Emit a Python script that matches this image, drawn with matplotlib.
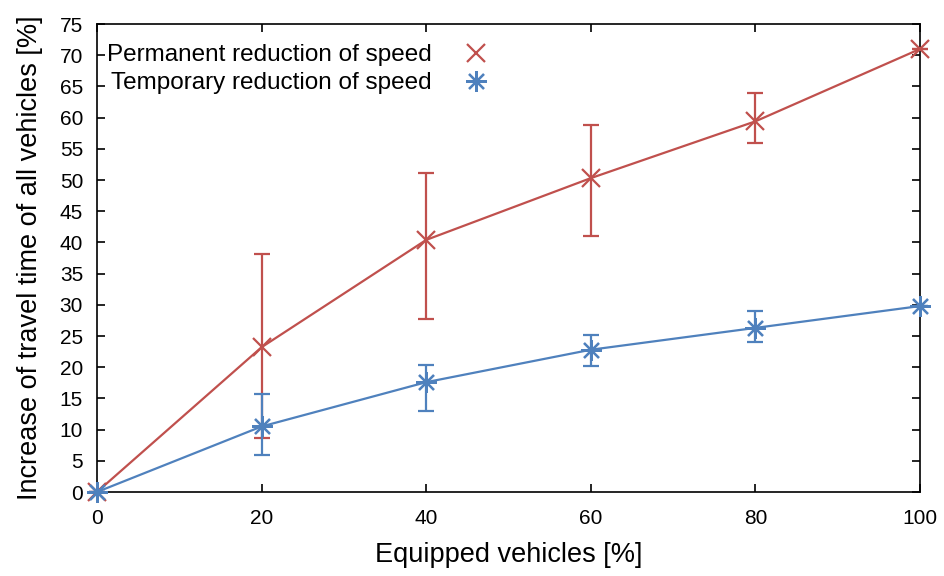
import matplotlib
matplotlib.use("Agg")
import matplotlib.pyplot as plt
from matplotlib.lines import Line2D

plt.rcParams['font.family'] = ['Liberation Sans', 'DejaVu Sans']

equipped = [0, 20, 40, 60, 80, 100]
perm_mean = [0, 23.2, 40.4, 50.3, 59.4, 71.0]
perm_low = [0, 8.6, 27.8, 41.0, 55.9, 71.0]
perm_high = [0, 38.2, 51.2, 58.8, 63.9, 71.0]
temp_mean = [0, 10.5, 17.6, 22.8, 26.3, 29.8]
temp_low = [0, 5.9, 13.0, 20.2, 24.0, 29.8]
temp_high = [0, 15.7, 20.4, 25.2, 29.0, 29.8]
labels = ["Permanent reduction of speed", "Temporary reduction of speed"]

red = "#c0504d"
blue = "#4f81bd"

fig = plt.figure(figsize=(9.45, 5.76), dpi=100)
ax = fig.add_axes([0.1026, 0.1458, 0.8709, 0.8125])

def err(mean, low, high):
    return [[m - l for m, l in zip(mean, low)], [h - m for m, h in zip(mean, high)]]

red_marker = dict(marker='x', markersize=13, markeredgewidth=1.6)
blue_marker = dict(marker=(8, 2, 0), markersize=15, markeredgewidth=1.6)

ax.errorbar(equipped, perm_mean, yerr=err(perm_mean, perm_low, perm_high),
            color=red, lw=1.6, capsize=6, capthick=1.6, elinewidth=1.6,
            clip_on=False, zorder=3, **red_marker)
ax.errorbar(equipped, temp_mean, yerr=err(temp_mean, temp_low, temp_high),
            color=blue, lw=1.6, capsize=6, capthick=1.6, elinewidth=1.6,
            clip_on=False, zorder=4, **blue_marker)

ax.set_xlim(0, 100)
ax.set_ylim(0, 75)
ax.set_xticks([0, 20, 40, 60, 80, 100])
ax.set_yticks(range(0, 80, 5))
ax.tick_params(direction='in', top=True, right=True, length=6, width=1.2,
               labelsize=15)
ax.tick_params(axis='x', pad=12)
ax.tick_params(axis='y', pad=10)
for s in ax.spines.values():
    s.set_linewidth(1.2)

ax.set_xlabel("Equipped vehicles [%]", fontsize=19.5, labelpad=10)
ax.set_ylabel("Increase of travel time of all vehicles [%]", fontsize=19.5, labelpad=12)

handles = [Line2D([], [], color=red, linestyle='none', **red_marker),
           Line2D([], [], color=blue, linestyle='none', **blue_marker)]
ax.legend(handles, labels, loc='upper left', bbox_to_anchor=(-0.0024, 0.983),
          frameon=False, markerfirst=False,
          fontsize=17.5, handlelength=1.2, handletextpad=1.2, borderaxespad=0.2,
          borderpad=0.3, labelspacing=0.25)

fig.savefig("out.png", dpi=100)
